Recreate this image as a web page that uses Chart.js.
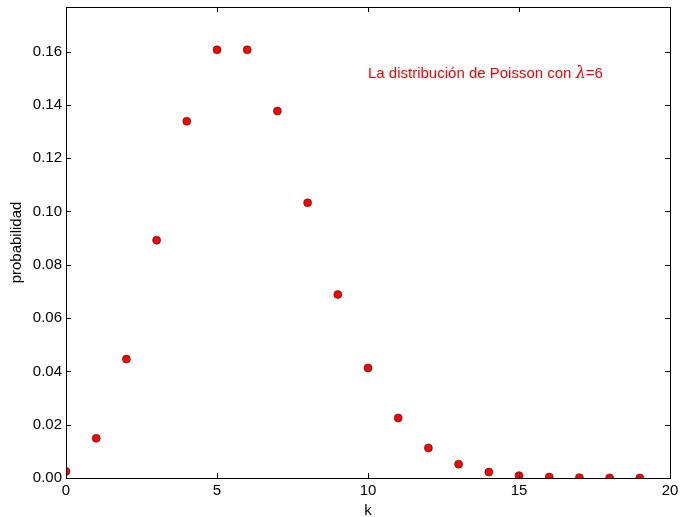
<!DOCTYPE html>
<html>
<head>
<meta charset="utf-8">
<script src="https://cdn.jsdelivr.net/npm/chart.js@4.4.1/dist/chart.umd.min.js"></script>
<style>
  html, body { margin: 0; padding: 0; background: #fff; }
  #wrap { width: 680px; height: 517px; }
</style>
</head>
<body>
<div id="wrap"><canvas id="chart" width="680" height="517"></canvas></div>
<script>
// Poisson pmf, lambda = 6
const kValues = [0, 1, 2, 3, 4, 5, 6, 7, 8, 9, 10, 11, 12, 13, 14, 15, 16, 17, 18, 19];
const probabilities = [0.00248, 0.01487, 0.04462, 0.08924, 0.13385, 0.16062, 0.16062, 0.13768,
  0.10326, 0.06884, 0.04130, 0.02253, 0.01126, 0.00520, 0.00223, 0.00089, 0.00033, 0.00012,
  0.00004, 0.00001];
const xTicks = [0, 5, 10, 15, 20];
const yTicks = [0.00, 0.02, 0.04, 0.06, 0.08, 0.10, 0.12, 0.14, 0.16];
const annotation = { x: 10, y: 0.15, before: 'La distribución de Poisson con ', symbol: 'λ', after: '=6' };

const FONT = '"Liberation Sans", Arial, sans-serif';
const SIZE = 15;

// Frame, inward ticks on all four sides, and the red label
const framePlugin = {
  id: 'frame',
  afterDatasetsDraw(chart) {
    const { ctx, chartArea: a, scales } = chart;
    const len = 5;
    ctx.save();
    ctx.strokeStyle = '#000';
    ctx.lineWidth = 1;
    ctx.beginPath();
    xTicks.forEach(v => {
      const px = Math.round(scales.x.getPixelForValue(v)) + 0.5;
      ctx.moveTo(px, a.bottom); ctx.lineTo(px, a.bottom - len);
      ctx.moveTo(px, a.top); ctx.lineTo(px, a.top + len);
    });
    yTicks.forEach(v => {
      const py = Math.round(scales.y.getPixelForValue(v)) + 0.5;
      ctx.moveTo(a.left, py); ctx.lineTo(a.left + len, py);
      ctx.moveTo(a.right, py); ctx.lineTo(a.right - len, py);
    });
    ctx.stroke();
    ctx.strokeRect(Math.round(a.left) + 0.5, Math.round(a.top) + 0.5,
      Math.round(a.right - a.left), Math.round(a.bottom - a.top));

    // annotation at data coords
    let tx = scales.x.getPixelForValue(annotation.x);
    const ty = scales.y.getPixelForValue(annotation.y);
    ctx.fillStyle = '#ff0000';
    ctx.textBaseline = 'alphabetic';
    ctx.textAlign = 'left';
    ctx.font = SIZE + 'px ' + FONT;
    ctx.fillText(annotation.before, tx, ty);
    tx += ctx.measureText(annotation.before).width;
    ctx.font = 'italic 16px "DejaVu Serif", serif';
    ctx.fillText(annotation.symbol, tx, ty);
    tx += ctx.measureText(annotation.symbol).width;
    ctx.font = SIZE + 'px ' + FONT;
    ctx.fillText(annotation.after, tx, ty);
    ctx.restore();
  }
};

new Chart(document.getElementById('chart'), {
  type: 'scatter',
  data: {
    datasets: [{
      data: kValues.map((k, i) => ({ x: k, y: probabilities[i] })),
      backgroundColor: '#ff0000',
      borderColor: '#222',
      borderWidth: 0.6,
      pointRadius: 4,
      clip: 0
    }]
  },
  options: {
    responsive: false,
    animation: false,
    events: [],
    layout: { padding: { top: 7, right: 10, left: 0, bottom: 0 } },
    plugins: { legend: { display: false }, tooltip: { enabled: false } },
    scales: {
      x: {
        type: 'linear',
        min: 0,
        max: 20,
        afterFit(scale) {
          scale.height = 39;
          scale.paddingLeft = 0;
          scale.paddingRight = 0;
        },
        grid: { display: false, drawTicks: false },
        border: { display: false },
        ticks: {
          stepSize: 5,
          padding: 4,
          color: '#000',
          font: { family: FONT, size: SIZE },
          maxRotation: 0
        },
        title: {
          display: true,
          text: 'k',
          color: '#000',
          font: { family: FONT, size: SIZE, lineHeight: 1 },
          padding: { top: 0, bottom: -1 }
        }
      },
      y: {
        type: 'linear',
        min: 0,
        max: 0.1767,
        afterFit(scale) {
          scale.width = 66;
          scale.paddingTop = 0;
          scale.paddingBottom = 0;
        },
        grid: { display: false, drawTicks: false },
        border: { display: false },
        ticks: {
          stepSize: 0.02,
          includeBounds: false,
          padding: 4,
          color: '#000',
          font: { family: FONT, size: SIZE },
          callback: v => v.toFixed(2)
        },
        title: {
          display: true,
          text: 'probabilidad',
          color: '#000',
          font: { family: FONT, size: SIZE, lineHeight: 1 },
          padding: { top: 9, bottom: 0 }
        }
      }
    }
  },
  plugins: [framePlugin]
});
</script>
</body>
</html>
